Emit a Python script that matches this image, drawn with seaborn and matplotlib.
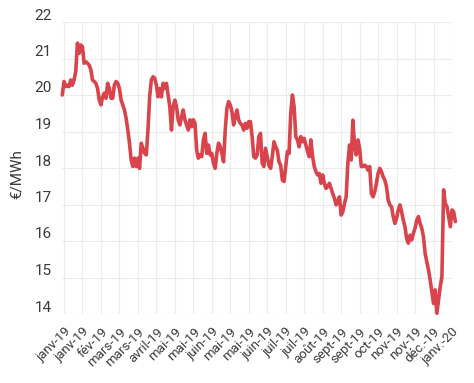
import matplotlib

matplotlib.use("Agg")
import matplotlib.pyplot as plt
import matplotlib.transforms as mtransforms
import numpy as np
import pandas as pd
import seaborn as sns

# Daily price (EUR/MWh)
PRICES = [
    20.00, 20.37, 20.23, 20.27, 20.23, 20.41, 20.27, 20.41, 20.64, 21.42,
    21.14, 21.37, 21.32, 20.87, 20.91, 20.87, 20.82, 20.69, 20.41, 20.37,
    20.32, 20.18, 19.86, 19.73, 19.95, 20.05, 19.91, 20.32, 20.18, 19.91,
    19.91, 20.27, 20.37, 20.32, 20.18, 19.86, 19.73, 19.59, 19.36, 19.04,
    18.68, 18.22, 18.04, 18.27, 18.04, 18.27, 17.99, 18.68, 18.54, 18.40,
    18.36, 19.04, 19.95, 20.41, 20.50, 20.46, 20.27, 19.95, 20.18, 19.95,
    20.32, 20.18, 20.32, 20.00, 19.68, 19.04, 19.68, 19.86, 19.68, 19.32,
    19.18, 19.41, 19.59, 19.32, 19.18, 19.04, 19.32, 19.13, 19.32, 19.22,
    18.49, 18.27, 18.36, 18.31, 18.77, 18.95, 18.40, 18.63, 18.36, 18.40,
    18.13, 17.99, 18.40, 18.68, 18.59, 18.40, 18.17, 19.04, 19.63, 19.82,
    19.73, 19.54, 19.18, 19.41, 19.59, 19.32, 19.22, 19.18, 19.04, 19.22,
    19.09, 19.27, 19.27, 18.86, 18.31, 18.27, 18.36, 18.86, 18.95, 18.13,
    18.04, 18.54, 18.31, 18.08, 17.99, 18.31, 18.72, 18.58, 18.49, 18.17,
    18.08, 17.67, 17.63, 18.04, 18.45, 18.40, 19.50, 20.00, 19.68, 18.86,
    18.77, 18.58, 18.86, 18.72, 18.81, 18.63, 18.45, 18.31, 18.77, 18.31,
    18.04, 17.90, 17.81, 17.85, 17.58, 17.81, 17.58, 17.44, 17.49, 17.58,
    17.44, 17.30, 17.17, 16.99, 17.08, 17.21, 16.71, 16.80, 17.03, 17.21,
    18.13, 18.63, 18.22, 19.31, 18.58, 18.36, 18.77, 18.54, 18.04, 18.04,
    18.08, 18.04, 17.94, 18.04, 17.30, 17.21, 17.35, 17.58, 17.85, 17.99,
    17.90, 17.76, 17.67, 17.49, 17.12, 16.99, 16.94, 16.67, 16.48, 16.62,
    16.85, 16.99, 16.80, 16.57, 16.39, 16.07, 15.94, 16.16, 16.03, 16.21,
    16.35, 16.57, 16.67, 16.48, 16.35, 16.12, 15.66, 15.43, 15.21, 14.93,
    14.61, 14.29, 14.66, 14.02, 14.38, 14.75, 15.02, 17.40, 17.03, 16.94,
    16.67, 16.39, 16.85, 16.80, 16.53,
]

MONTH_LABELS = [
    "janv-19", "janv-19", "fév-19", "mars-19", "mars-19", "avril-19",
    "mai-19", "mai-19", "juin-19", "mai-19", "mai-19", "juin-19",
    "juil-19", "juil-19", "août-19", "sept-19", "sept-19", "oct-19",
    "nov-19", "nov-19", "déc.-19", "janv.-20",
]
Y_TICKS = [14, 15, 16, 17, 18, 19, 20, 21, 22]

LINE_COLOR = "#d9444c"
GRID_COLOR = "#ebebeb"
TEXT_COLOR = "#3a3a3a"

sns.set_theme(style="white")
plt.rcParams["font.family"] = ["Roboto", "DejaVu Sans"]


def main() -> None:
    df = pd.DataFrame({"day": np.arange(len(PRICES)), "price": PRICES})
    tick_pos = np.arange(len(MONTH_LABELS)) * 11 + 1

    fig = plt.figure(figsize=(4.74, 3.83), dpi=100)
    ax = fig.add_axes([62.3 / 474, 1 - 314 / 383, (452 - 62.3) / 474, 292 / 383])

    sns.lineplot(data=df, x="day", y="price", ax=ax, color=LINE_COLOR,
                 linewidth=2.6, clip_on=False)

    ax.set_xlim(0, tick_pos[-1])
    ax.set_ylim(14, 22)
    ax.set_xticks(tick_pos)
    ax.set_xticklabels(MONTH_LABELS, rotation=45, ha="right",
                       rotation_mode="anchor", fontsize=9.5, color=TEXT_COLOR)
    ax.set_yticks(Y_TICKS)
    ax.set_yticklabels([str(t) for t in Y_TICKS], fontsize=11, color=TEXT_COLOR)

    ax.grid(True, color=GRID_COLOR, linewidth=0.8)
    ax.tick_params(axis="x", length=0, pad=8)
    ax.tick_params(axis="y", length=21, width=0.8, color=GRID_COLOR, pad=-13.5)
    for spine in ax.spines.values():
        spine.set_visible(False)

    shift = mtransforms.ScaledTranslation(0, 8 / 100, fig.dpi_scale_trans)
    for lab in ax.get_yticklabels():
        lab.set_transform(lab.get_transform() + shift)

    ax.set_xlabel("")
    ax.set_ylabel("€/MWh", fontsize=11, color=TEXT_COLOR)
    ax.yaxis.set_label_coords((24 - 62.3) / 389.7, 0.48)

    fig.savefig("out.png", dpi=100)
    plt.close(fig)


if __name__ == "__main__":
    main()
